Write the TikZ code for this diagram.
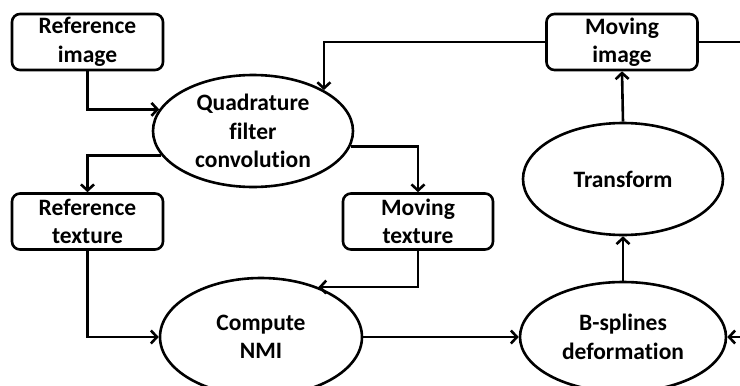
\documentclass[tikz,border=0pt]{standalone}
\usepackage{fontspec}
\setmainfont{Carlito}[Ligatures=NoCommon]
\usetikzlibrary{shapes.geometric,arrows.meta}

\tikzset{
  txt/.style={align=center, inner sep=0pt, font=\bfseries\fontsize{23.5}{28.5}\selectfont},
  box/.style={txt, draw, line width=2.6pt, rounded corners=8pt, minimum width=151pt, minimum height=56pt},
  oval/.style={txt, draw, ellipse, line width=2.6pt, minimum width=200pt, minimum height=112pt},
  flow/.style={line width=2.6pt, -{Straight Barb[length=6pt,width=13pt]}}
}

\begin{document}
\begin{tikzpicture}[x=1pt,y=-1pt]
    \clip (0,0) rectangle (740,386);

    % top row
    \node[box] (refimg) at (87.5,42) {Reference\\image};
    \node[box] (movimg) at (622,42) {Moving\\image};
    \node[oval] (quad) at (253,131) {Quadrature\\filter\\convolution};
    \node[oval] (trans) at (623,179) {Transform};

    % textures
    \node[box] (reftex) at (87.5,221.5) {Reference\\texture};
    \node[box, minimum width=150pt] (movtex) at (418,221.5) {Moving\\texture};

    % bottom row
    \node[oval, minimum width=202pt, minimum height=118pt] (nmi) at (261,337) {Compute\\NMI};
    \node[oval, minimum width=206pt, minimum height=110pt] (bsp) at (623,337) {B-splines\\deformation};
    \coordinate (rgt) at (760,42);

    \draw[flow] (refimg.south) |- (quad.167);
    \draw[flow] (movimg.west) -| (quad.30);
    \draw[flow] (quad.195) -| (reftex.north);
    \draw[flow] (quad.-9) -| (movtex.north);
    \draw[flow] (reftex.south) |- (nmi.west);
    \draw[flow] (movtex.south) |- (nmi.41);
    \draw[flow] (nmi.east) -- (bsp.west);
    \draw[flow] (bsp.north) -- (trans.south);
    \draw[flow] (trans.north) -- (movimg.south);
    \draw[flow] (movimg.east) -- (rgt) |- (bsp.east);
\end{tikzpicture}
\end{document}
